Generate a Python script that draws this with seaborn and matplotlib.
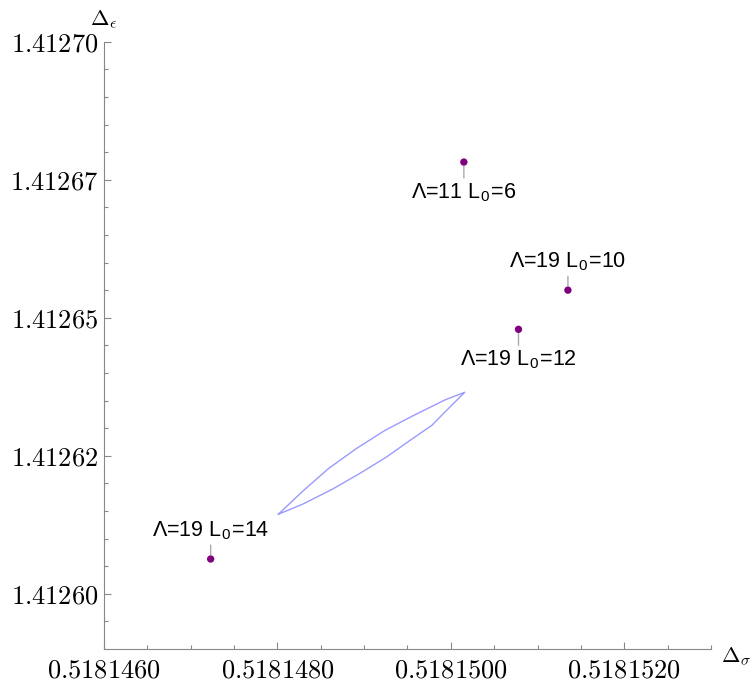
import numpy as np
import pandas as pd
import matplotlib
matplotlib.use("Agg")
import matplotlib.pyplot as plt
import seaborn as sns

# ---------------- data ----------------
point_labels = [r"Λ=11 L$_\mathregular{0}$=6", r"Λ=19 L$_\mathregular{0}$=10",
                r"Λ=19 L$_\mathregular{0}$=12", r"Λ=19 L$_\mathregular{0}$=14"]
point_x = [0.51815015, 0.51815135, 0.51815078, 0.51814723]
point_y = [1.4126782, 1.4126550, 1.4126479, 1.4126063]
label_side = ["below", "above", "below", "above"]

upper_x = [0.51814801, 0.51814830, 0.51814859, 0.51814891, 0.51814924,
           0.51814957, 0.51814993, 0.51815016]
upper_y = [1.4126144, 1.4126187, 1.4126227, 1.4126263, 1.4126296,
           1.4126323, 1.4126351, 1.4126365]
lower_x = [0.51814801, 0.51814830, 0.51814864, 0.51814895, 0.51814926,
           0.51814953, 0.51814978, 0.51814993, 0.51815016]
lower_y = [1.4126144, 1.4126163, 1.4126190, 1.4126218, 1.4126248,
           1.4126278, 1.4126305, 1.4126329, 1.4126365]

x_ticks = [0.5181460, 0.5181480, 0.5181500, 0.5181520]
x_tick_labels = ["0.5181460", "0.5181480", "0.5181500", "0.5181520"]
y_ticks = [1.412600, 1.412625, 1.412650, 1.412675, 1.412700]
y_tick_labels = ["1.41260", "1.41262", "1.41265", "1.41267", "1.41270"]
x_range = (0.5181460, 0.5181530)
y_range = (1.41259, 1.41270)

# ---------------- style ----------------
sns.set_theme(style="white")
plt.rcParams["font.family"] = ["Liberation Sans", "DejaVu Sans"]
plt.rcParams["mathtext.fontset"] = "cm"
plt.rcParams["text.color"] = "black"

fig = plt.figure(figsize=(7.53, 6.83), dpi=100)
W, H = 753, 683
ax = fig.add_axes([104 / W, (H - 649) / H, (711 - 104) / W, (649 - 41.7) / H])

# contour (closed path)
cx = upper_x + lower_x[::-1]
cy = upper_y + lower_y[::-1]
contour = pd.DataFrame({"x": cx, "y": cy})
sns.lineplot(data=contour, x="x", y="y", sort=False, estimator=None,
             color="#9a9aff", lw=1.0, ax=ax)

pts = pd.DataFrame({"x": point_x, "y": point_y, "label": point_labels})
sns.scatterplot(data=pts, x="x", y="y", color="#800080", s=28,
                edgecolor="none", ax=ax, zorder=5)

for lx, ly, lab, side in zip(point_x, point_y, point_labels, label_side):
    dy = -22 if side == "below" else 20.5
    ax.annotate(lab, xy=(lx, ly), xytext=(0, dy), textcoords="offset points",
                ha="center", va="center", fontsize=15.5, color="black",
                arrowprops=dict(arrowstyle="-", color="#aaaaaa", lw=1.0,
                                shrinkA=0, shrinkB=3))

ax.set_xlim(*x_range)
ax.set_ylim(*y_range)
ax.set_xticks(x_ticks, labels=[f"${t}$" for t in x_tick_labels])
ax.set_yticks(y_ticks, labels=[f"${t}$" for t in y_tick_labels])
ax.set_xticks(np.arange(0.5181460, 0.51815301, 0.0000005), minor=True)
ax.set_yticks(np.arange(1.41259, 1.4127001, 0.000005), minor=True)

ax.tick_params(axis="both", which="both", bottom=True, left=True,
               top=False, right=False)
ax.tick_params(axis="both", which="major", direction="in", length=5,
               width=0.8, color="#888888", labelsize=19, labelcolor="black")
ax.tick_params(axis="both", which="minor", direction="in", length=3,
               width=0.8, color="#888888")
ax.tick_params(axis="x", which="major", pad=7)
ax.tick_params(axis="y", which="major", pad=4)

for s in ["top", "right"]:
    ax.spines[s].set_visible(False)
for s in ["left", "bottom"]:
    ax.spines[s].set_color("#888888")
    ax.spines[s].set_linewidth(0.8)

ax.set_xlabel("")
ax.set_ylabel("")
ax.annotate(r"$\Delta_\epsilon$", xy=(0, 1), xycoords="axes fraction",
            xytext=(0, 12), textcoords="offset points", ha="center",
            va="baseline", fontsize=16, color="black")
ax.annotate(r"$\Delta_\sigma$", xy=(1, 0), xycoords="axes fraction",
            xytext=(7.5, -9.5), textcoords="offset points", ha="left",
            va="baseline", fontsize=16, color="black")

fig.savefig("out.png", dpi=100)
